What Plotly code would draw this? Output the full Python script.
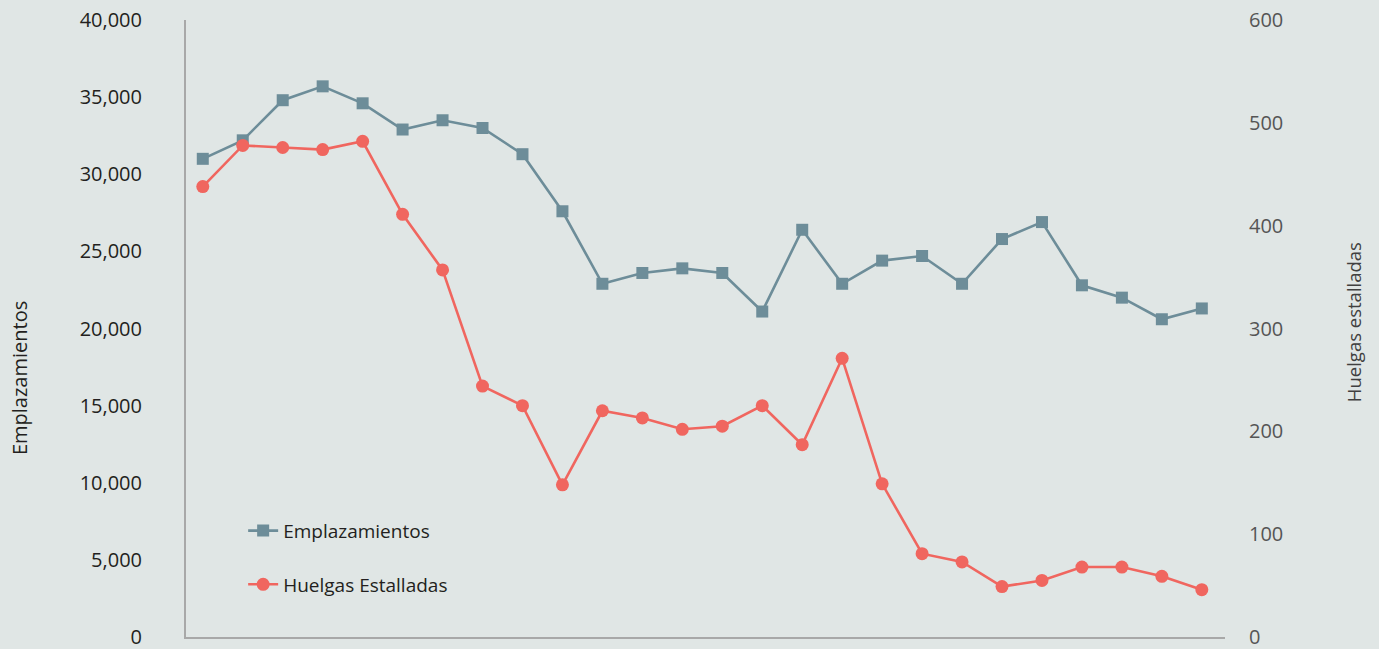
import plotly.graph_objects as go

years = [1990, 1991, 1992, 1993, 1994, 1995, 1996, 1997, 1998, 1999, 2000, 2001, 2002,
         2003, 2004, 2005, 2006, 2007, 2008, 2009, 2010, 2011, 2012, 2013, 2014, 2015]
emplazamientos = [31000, 32200, 34800, 35700, 34600, 32900, 33500, 33000, 31300, 27600,
                  22900, 23600, 23900, 23600, 21100, 26400, 22900, 24400, 24700, 22900,
                  25800, 26900, 22800, 22000, 20600, 21300]
huelgas = [438, 478, 476, 474, 482, 411, 357, 244, 225, 148, 220, 213, 202, 205, 225,
           187, 271, 149, 81, 73, 49, 55, 68, 68, 59, 46]
left_ticks = [0, 5000, 10000, 15000, 20000, 25000, 30000, 35000, 40000]
left_labels = ["0", "5,000", "10,000", "15,000", "20,000", "25,000", "30,000", "35,000", "40,000"]
right_ticks = [0, 100, 200, 300, 400, 500, 600]

BG = "#e0e6e5"
BLUE = "#6d8d99"
RED = "#f0665f"
FONT = "Open Sans, Noto Sans, sans-serif"

x_idx = list(range(len(years)))

fig = go.Figure()
fig.add_trace(go.Scatter(
    x=x_idx, y=emplazamientos, name="Emplazamientos", mode="lines+markers",
    line=dict(color=BLUE, width=2.6), marker=dict(symbol="square", size=12, color=BLUE),
    legendgroup="a", yaxis="y"))
fig.add_trace(go.Scatter(
    x=x_idx, y=huelgas, name="Huelgas Estalladas", mode="lines+markers",
    line=dict(color=RED, width=2.6), marker=dict(symbol="circle", size=13, color=RED),
    legendgroup="b", yaxis="y2"))

fig.update_layout(
    width=1379, height=649,
    paper_bgcolor=BG, plot_bgcolor=BG,
    margin=dict(l=186, r=154, t=20, b=12, autoexpand=False),
    font=dict(family=FONT, size=20, color="#231f20"),
    xaxis=dict(range=[-0.42, 25.58], showgrid=False, zeroline=False, showline=True,
               linecolor="#a8a8a8", linewidth=2, showticklabels=False, ticks=""),
    yaxis=dict(range=[0, 40000], tickvals=left_ticks, ticktext=left_labels,
               showgrid=False, zeroline=False, showline=True, linecolor="#a8a8a8",
               linewidth=2, ticks="", ticklabelstandoff=38, ticklabeloverflow="allow",
               tickfont=dict(family=FONT, size=20, color="#231f20")),
    yaxis2=dict(range=[0, 600], tickvals=right_ticks, overlaying="y", side="right",
                showgrid=False, zeroline=False, showline=False, ticks="",
                ticklabelstandoff=23, ticklabeloverflow="allow",
                tickfont=dict(family=FONT, size=20, color="#555555")),
    legend=dict(x=0.055, y=0.203, xanchor="left", yanchor="top",
                bgcolor="rgba(0,0,0,0)", font=dict(family=FONT, size=19, color="#231f20"),
                tracegroupgap=26),
    showlegend=True,
)

fig.add_annotation(text="Emplazamientos", xref="paper", yref="paper",
                   x=-0.1745, y=0.42, showarrow=False, textangle=-90,
                   font=dict(family=FONT, size=20, color="#231f20"))
fig.add_annotation(text="Huelgas estalladas", xref="paper", yref="paper",
                   x=1.137, y=0.51, showarrow=False, textangle=-90,
                   font=dict(family=FONT, size=18.5, color="#404040"))

fig.write_html("out.html", config={"displayModeBar": False},
               post_script="document.body.style.margin='0';")
